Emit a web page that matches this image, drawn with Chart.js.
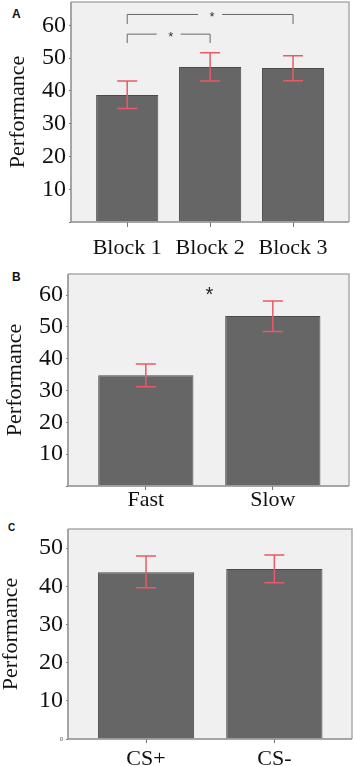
<!DOCTYPE html>
<html>
<head>
<script src="https://cdn.jsdelivr.net/npm/chart.js@4.4.1/dist/chart.umd.min.js"></script>
<title>Performance by block, speed and CS</title>
<style>
  body { margin: 0; background: #fff; width: 355px; height: 766px; position: relative; overflow: hidden; }
  .panel { position: absolute; left: 0; width: 355px; }
  .tag { position: absolute; font-family: 'Liberation Sans', Arial, sans-serif; font-weight: bold; line-height: 1; color: #111; }
</style>
</head>
<body>
<div class="tag" style="left:12px;top:8px;font-size:12px">A</div>
<div class="tag" style="left:12px;top:271px;font-size:12px">B</div>
<div class="tag" style="left:8px;top:523px;font-size:10px">C</div>
<div class="panel" style="top:0;height:262px"><canvas id="chartA"></canvas></div>
<div class="panel" style="top:262px;height:256px"><canvas id="chartB"></canvas></div>
<div class="panel" style="top:518px;height:248px"><canvas id="chartC"></canvas></div>

<script>
// panel A - blocks
const blockLabels = ['Block 1', 'Block 2', 'Block 3'];
const blockMeans = [38.7, 47.3, 47.0];
const blockLow = [34.6, 43.0, 43.1];
const blockHigh = [43.0, 51.6, 50.7];

// panel B - speed
const speedLabels = ['Fast', 'Slow'];
const speedMeans = [34.8, 53.4];
const speedLow = [31.2, 48.5];
const speedHigh = [38.3, 58.1];

// panel C - CS
const csLabels = ['CS+', 'CS-'];
const csMeans = [43.7, 44.5];
const csLow = [39.6, 40.9];
const csHigh = [47.9, 48.2];

const serif = "'Liberation Serif', 'Times New Roman', serif";

// grey plot box, red error bars, significance brackets
const panelPlugin = {
  id: 'panel',
  beforeDatasetsDraw(chart) {
    const a = chart.chartArea, c = chart.ctx;
    c.save();
    c.fillStyle = '#f0f0f0';
    c.fillRect(a.left, a.top, a.right - a.left, a.bottom - a.top);
    c.restore();
  },
  afterDatasetsDraw(chart, args, opts) {
    const a = chart.chartArea, c = chart.ctx;
    const xs = chart.scales.x, ys = chart.scales.y;
    c.save();
    // frame
    c.lineWidth = 1.5;
    c.strokeStyle = '#aaaaaa';
    c.beginPath();
    c.moveTo(a.left, a.top); c.lineTo(a.right, a.top); c.lineTo(a.right, a.bottom);
    c.stroke();
    c.strokeStyle = '#8a8a8a';
    c.beginPath();
    c.moveTo(a.left, a.top); c.lineTo(a.left, a.bottom); c.lineTo(a.right, a.bottom);
    c.stroke();

    // error bars
    c.strokeStyle = '#e85a68';
    c.lineWidth = 1.5;
    opts.low.forEach((lo, i) => {
      const x = xs.getPixelForValue(i);
      const y1 = ys.getPixelForValue(lo), y2 = ys.getPixelForValue(opts.high[i]);
      c.beginPath();
      c.moveTo(x, y1); c.lineTo(x, y2);
      c.moveTo(x - 10, y1); c.lineTo(x + 10, y1);
      c.moveTo(x - 10, y2); c.lineTo(x + 10, y2);
      c.stroke();
    });

    // brackets
    c.strokeStyle = '#666';
    c.lineWidth = 1;
    c.fillStyle = '#333';
    c.textAlign = 'center';
    c.textBaseline = 'middle';
    opts.brackets.forEach(b => {
      const x1 = xs.getPixelForValue(b.from), x2 = xs.getPixelForValue(b.to);
      const y = ys.getPixelForValue(b.y), yd = ys.getPixelForValue(b.drop);
      const xm = (x1 + x2) / 2;
      c.beginPath();
      c.moveTo(x1, yd); c.lineTo(x1, y); c.lineTo(xm - 12, y);
      c.moveTo(xm + 12, y); c.lineTo(x2, y); c.lineTo(x2, yd);
      c.stroke();
      c.font = "13px 'Liberation Sans', Arial, sans-serif";
      c.fillText('*', xm + 2, y + 3);
    });
    opts.stars.forEach(s => {
      c.font = "20px 'Liberation Sans', Arial, sans-serif";
      c.fillStyle = '#222';
      c.fillText('*', xs.getPixelForValue(s.x), ys.getPixelForValue(s.y) + 4);
    });
    // tiny zero label at the origin (panel C)
    if (opts.zero) {
      c.font = "6px " + serif;
      c.fillStyle = '#333';
      c.textAlign = 'right';
      c.fillText('0', a.left - 5, a.bottom);
    }
    c.restore();
  }
};

function makePanel(id, labels, means, low, high, cfg) {
  return new Chart(document.getElementById(id), {
    type: 'bar',
    data: {
      datasets: [{
        data: means.map((v, i) => ({ x: i, y: v })),
        backgroundColor: '#666666',
        borderColor: '#4a4a4a',
        borderWidth: 1,
        barPercentage: 0.75,
        categoryPercentage: 1
      }]
    },
    options: {
      responsive: true,
      maintainAspectRatio: false,
      animation: false,
      layout: { padding: { top: cfg.padTop, right: cfg.padRight, left: 0, bottom: 0 } },
      plugins: {
        legend: { display: false },
        tooltip: { enabled: false },
        panel: { low: low, high: high, brackets: cfg.brackets || [], stars: cfg.stars || [], zero: !!cfg.showZero }
      },
      scales: {
        x: {
          type: 'linear',
          offset: false,
          min: cfg.xMin,
          max: cfg.xMax,
          afterBuildTicks: s => { s.ticks = labels.map((l, i) => ({ value: i })); },
          afterFit: s => { s.height = cfg.xHeight; s.paddingLeft = 0; s.paddingRight = 0; },
          grid: { display: true, drawOnChartArea: false, drawTicks: true, tickLength: cfg.xTickLen, color: '#777', offset: false },
          border: { display: false },
          ticks: {
            autoSkip: false, maxRotation: 0, padding: cfg.xPad, color: '#111',
            font: { family: serif, size: 22 },
            callback: v => labels[v]
          }
        },
        y: {
          min: 0,
          max: cfg.yMax,
          afterFit: s => { s.width = cfg.yWidth; s.paddingTop = 0; s.paddingBottom = 0; },
          grid: { display: true, drawOnChartArea: false, drawTicks: true, tickLength: 2, color: '#777' },
          border: { display: false },
          ticks: {
            stepSize: 10, includeBounds: false, padding: 3, color: '#111',
            font: { family: serif, size: 24 },
            callback: v => v === 0 ? '' : v
          },
          title: {
            display: true, text: 'Performance', color: '#111',
            font: { family: serif, size: 22, lineHeight: 1 },
            padding: { top: cfg.titlePad, bottom: 0 }
          }
        }
      }
    },
    plugins: [panelPlugin]
  });
}

makePanel('chartA', blockLabels, blockMeans, blockLow, blockHigh, {
  padTop: 2, padRight: 6, yWidth: 71, xHeight: 40, yMax: 67.1,
  xMin: -0.678, xMax: 2.675, xTickLen: 5, xPad: 8, titlePad: 7,
  brackets: [{ from: 0, to: 2, y: 63.3, drop: 60.4 }, { from: 0, to: 1, y: 57.3, drop: 54.6 }]
});

makePanel('chartB', speedLabels, speedMeans, speedLow, speedHigh, {
  padTop: 12, padRight: 6, yWidth: 68, xHeight: 32, yMax: 66.6,
  xMin: -0.613, xMax: 1.6, xTickLen: 4, xPad: -3, titlePad: 4,
  stars: [{ x: 0.5, y: 61 }]
});

makePanel('chartC', csLabels, csMeans, csLow, csHigh, {
  padTop: 11, padRight: 3, yWidth: 68, xHeight: 27, yMax: 55,
  xMin: -0.608, xMax: 1.605, xTickLen: 4, xPad: 3, titlePad: 0, showZero: true
});
</script>
</body>
</html>
